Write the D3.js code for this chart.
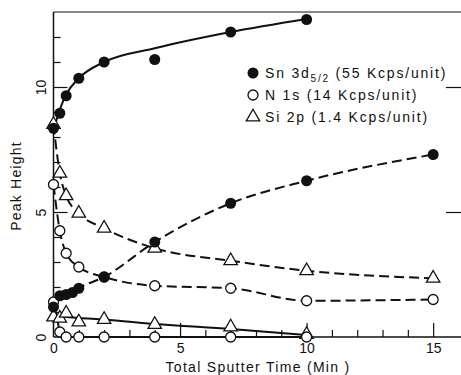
<!DOCTYPE html>
<html>
<head>
<meta charset="utf-8">
<script src="https://cdn.jsdelivr.net/npm/d3@7"></script>
<style>
  body { margin: 0; background: #fff; }
  svg { display: block; }
  text { font-family: "Liberation Sans", Arial, sans-serif; fill: #111; }
</style>
</head>
<body>
<svg id="chart" width="461" height="375"></svg>
<script>
// sputter times (min) and peak heights
var times = [0, 0.25, 0.5, 1, 2, 4, 7, 10, 15];
var snTimes = [0, 0.25, 0.5, 0.75, 1, 2, 4, 7, 10, 15];

var snUpper = [8.35, 8.95, 9.65, 10.35, 11.0, 11.1, 12.2, 12.7];
var snUpperFit = [8.25, 9.1, 9.7, 10.35, 11.0, 11.55, 12.2, 12.72];
var snLower = [1.2, 1.65, 1.7, 1.78, 1.95, 2.4, 3.8, 5.35, 6.25, 7.3];

var n1sUpper = [6.1, 4.25, 3.35, 2.8, 2.4, 2.05, 1.95, 1.45, 1.5];
var n1sLower = [1.4, 0.2, 0, 0, 0, 0, 0, 0];

var si2pUpper = [8.5, 6.55, 5.65, 4.95, 4.35, 3.55, 3.05, 2.65, 2.35];
var si2pLower = [0.8, 0.75, 0.95, 0.6, 0.7, 0.5, 0.4, 0.1];
var si2pLowerFit = [0.85, 0.82, 0.8, 0.76, 0.7, 0.52, 0.32, 0.08];

var xMajor = [0, 5, 10, 15];
var yMajor = [0, 5, 10];

var legendRows = [
    { symbol: "filled", main: "Sn 3d", sub: "5/2", rest: " (55 Kcps/unit)" },
    { symbol: "open", main: "N 1s (14 Kcps/unit)" },
    { symbol: "triangle", main: "Si 2p (1.4 Kcps/unit)" }
];

var svg = d3.select("#chart");

var x = d3.scaleLinear().domain([0, 16.1]).range([53.5, 461]);
var y = d3.scaleLinear().domain([0, 13]).range([337, 12]);

function pts(ts, vs) {
    return vs.map(function (v, i) { return { t: ts[i], v: v }; });
}

// frame
var frame = svg.append("g").attr("stroke", "#111").attr("stroke-width", 1.5);
frame.append("line").attr("x1", x(0)).attr("x2", x(0)).attr("y1", y(13)).attr("y2", y(0));
frame.append("line").attr("x1", x(0)).attr("x2", 461).attr("y1", y(0)).attr("y2", y(0));
frame.append("line").attr("x1", x(0)).attr("x2", 461).attr("y1", y(13)).attr("y2", y(13)).attr("stroke-width", 1.2);

// axes, ticks pointing inward
function styleAxis(g) {
    g.select(".domain").remove();
    g.selectAll("line").attr("stroke", "#111").attr("stroke-width", 1.2);
    g.selectAll("text").attr("font-size", 14).attr("font-family", null).attr("fill", "#111");
}

svg.append("g")
    .attr("transform", "translate(0," + y(0) + ")")
    .call(d3.axisBottom(x).tickValues(d3.range(1, 16).filter(function (d) { return d % 5; }))
        .tickSize(-7).tickFormat(""))
    .call(styleAxis);

svg.append("g")
    .attr("transform", "translate(0," + y(0) + ")")
    .call(d3.axisBottom(x).tickValues(xMajor).tickSize(-14).tickPadding(6).tickFormat(d3.format("d")))
    .call(styleAxis)
    .call(function (g) { g.selectAll(".tick").filter(function (d) { return d === 0; }).select("line").remove(); });

svg.append("g")
    .attr("transform", "translate(" + x(0) + ",0)")
    .call(d3.axisLeft(y).tickValues(d3.range(1, 13).filter(function (d) { return d % 5; }))
        .tickSize(-7).tickFormat(""))
    .call(styleAxis);

svg.append("g")
    .attr("transform", "translate(" + x(0) + ",0)")
    .call(d3.axisLeft(y).tickValues(yMajor).tickSize(-14).tickFormat(d3.format("d")))
    .call(styleAxis)
    .call(function (g) {
        g.selectAll(".tick").filter(function (d) { return d === 0; }).select("line").remove();
        g.selectAll("text")
            .attr("x", 0).attr("y", -8).attr("dy", 0)
            .attr("text-anchor", "middle")
            .attr("transform", "rotate(-90)");
    });

svg.append("g")
    .attr("transform", "translate(461,0)")
    .call(d3.axisRight(y).tickValues([5, 10]).tickSize(-15).tickFormat(""))
    .call(styleAxis);

// axis titles
svg.append("text")
    .attr("x", 258).attr("y", 372)
    .attr("text-anchor", "middle")
    .attr("font-size", 14)
    .attr("letter-spacing", 1.3)
    .text("Total Sputter Time (Min )");

svg.append("text")
    .attr("transform", "translate(21,186) rotate(-90)")
    .attr("text-anchor", "middle")
    .attr("font-size", 14)
    .attr("letter-spacing", 1.2)
    .text("Peak Height");

// curves
var lineGen = d3.line()
    .x(function (d) { return x(d.t); })
    .y(function (d) { return y(d.v); });

var curves = [
    { data: pts(times, snUpperFit), curve: d3.curveMonotoneX, dash: null },
    { data: pts(snTimes, snLower), curve: d3.curveMonotoneX, dash: "10,5" },
    { data: pts(times, n1sUpper), curve: d3.curveMonotoneX, dash: "10,5" },
    { data: pts(times, n1sLower), curve: d3.curveLinear, dash: null },
    { data: pts(times, si2pUpper), curve: d3.curveMonotoneX, dash: "10,5" },
    { data: pts(times, si2pLowerFit), curve: d3.curveMonotoneX, dash: null }
];

svg.append("g")
    .selectAll("path")
    .data(curves)
    .enter().append("path")
    .attr("fill", "none")
    .attr("stroke", "#111")
    .attr("stroke-width", 2)
    .attr("stroke-dasharray", function (d) { return d.dash; })
    .attr("d", function (d) { return lineGen.curve(d.curve)(d.data); });

// markers
var tri = d3.symbol().type(d3.symbolTriangle).size(78);

svg.append("g")
    .selectAll("path")
    .data(pts(times, si2pUpper).concat(pts(times, si2pLower)))
    .enter().append("path")
    .attr("d", tri)
    .attr("transform", function (d) { return "translate(" + x(d.t) + "," + y(d.v) + ")"; })
    .attr("fill", "#fff")
    .attr("stroke", "#111")
    .attr("stroke-width", 1.3);

svg.append("g")
    .selectAll("circle")
    .data(pts(times, n1sUpper).concat(pts(times, n1sLower)))
    .enter().append("circle")
    .attr("cx", function (d) { return x(d.t); })
    .attr("cy", function (d) { return y(d.v); })
    .attr("r", 5)
    .attr("fill", "#fff")
    .attr("stroke", "#111")
    .attr("stroke-width", 1.3);

svg.append("g")
    .selectAll("circle")
    .data(pts(times, snUpper).concat(pts(snTimes, snLower)))
    .enter().append("circle")
    .attr("cx", function (d) { return x(d.t); })
    .attr("cy", function (d) { return y(d.v); })
    .attr("r", 5.5)
    .attr("fill", "#111");

// legend
var legend = svg.append("g")
    .selectAll("g")
    .data(legendRows)
    .enter().append("g")
    .attr("transform", function (d, i) { return "translate(253," + [73, 95, 117][i] + ")"; });

legend.each(function (d) {
    var g = d3.select(this);
    if (d.symbol === "filled") {
        g.append("circle").attr("r", 5.5).attr("fill", "#111");
    } else if (d.symbol === "open") {
        g.append("circle").attr("r", 5).attr("fill", "#fff").attr("stroke", "#111").attr("stroke-width", 1.3);
    } else {
        g.append("path").attr("d", tri).attr("fill", "#fff").attr("stroke", "#111").attr("stroke-width", 1.3);
    }
    var t = g.append("text")
        .attr("x", 12).attr("y", 5)
        .attr("font-size", 14)
        .attr("letter-spacing", 1.8);
    t.append("tspan").text(d.main);
    if (d.sub) {
        t.append("tspan").attr("dy", 4).attr("font-size", 10).text(d.sub);
        t.append("tspan").attr("dy", -4).text(d.rest);
    }
});
</script>
</body>
</html>
